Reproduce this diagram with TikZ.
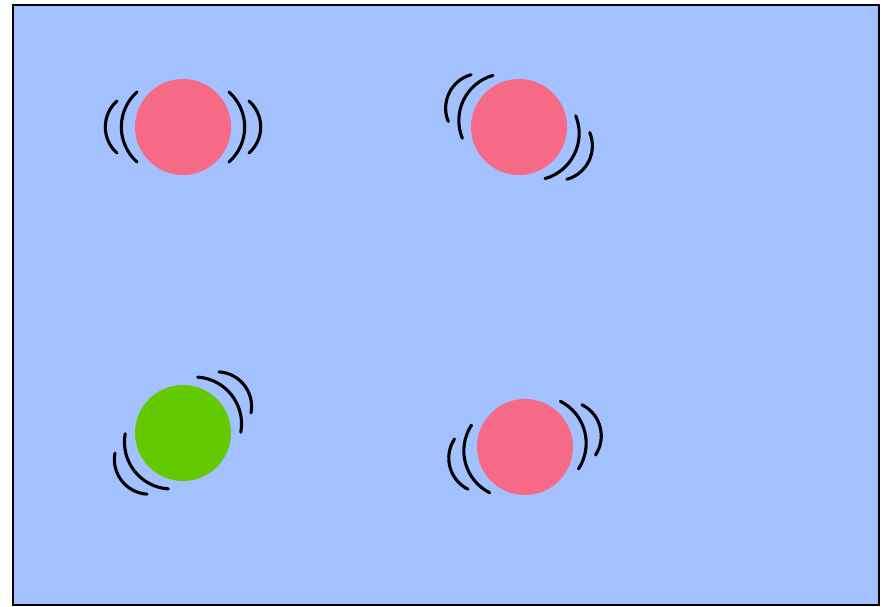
\documentclass[tikz,border=0pt]{standalone}
\definecolor{bgblue}{RGB}{163,192,255}
\definecolor{ballpink}{RGB}{247,106,135}
\definecolor{ballgreen}{RGB}{99,201,0}
\tikzset{
  ball/.style={circle, minimum size=96pt, inner sep=0pt, draw=none},
  wave/.style={line width=3.1pt, line cap=round, black},
}
\newcommand\vibarcs[2]{%
  \begin{scope}[shift={(#1)}, rotate=#2]
    \draw[wave] (-46,35) .. controls (-66.9,16.2) and (-66.9,-16.2) .. (-46,-35);
    \draw[wave] (-66,26) .. controls (-81.6,12.2) and (-81.6,-12.2) .. (-66,-26);
    \draw[wave] (46,35) .. controls (66.9,16.2) and (66.9,-16.2) .. (46,-35);
    \draw[wave] (66,26) .. controls (81.6,12.2) and (81.6,-12.2) .. (66,-26);
  \end{scope}}
\begin{document}
\begin{tikzpicture}[x=1pt, y=1pt]
\useasboundingbox (0,0) rectangle (888,606);
\draw[fill=bgblue, line width=2pt] (13,1.5) rectangle (879,600.5);
\node[ball, fill=ballpink] (b1) at (183,479) {};
\node[ball, fill=ballpink] (b2) at (519,479) {};
\node[ball, fill=ballgreen] (b3) at (183,173) {};
\node[ball, fill=ballpink] (b4) at (525,159) {};
\vibarcs{b1.center}{0}
\vibarcs{b2.center}{-26}
\vibarcs{b3.center}{38}
\vibarcs{b4.center}{15}
\end{tikzpicture}
\end{document}
